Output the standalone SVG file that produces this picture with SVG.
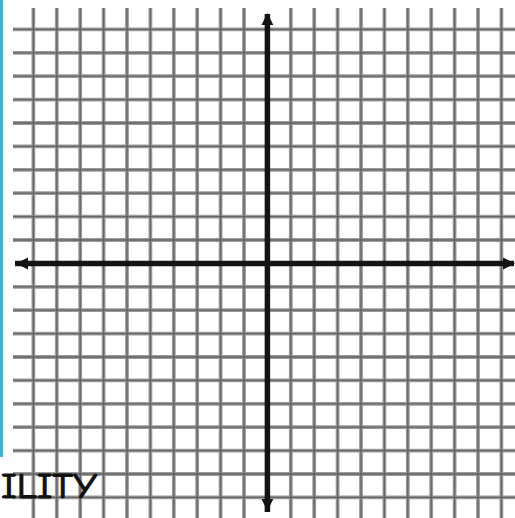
<svg xmlns="http://www.w3.org/2000/svg" width="515" height="518" viewBox="0 0 515 518">
<style>
.g{stroke:#9a9a9a;stroke-width:3.8;fill:none}
.gc{stroke:#4a4a4a;stroke-width:1.3;fill:none;opacity:0.65}
.ax{stroke:#141414;stroke-width:5.5;fill:none}
.ah{fill:#141414}
.t{font-family:"Comic Neue","Comic Sans MS","DejaVu Sans",sans-serif;font-size:36px;fill:#111;stroke:#111;stroke-width:1.2}
</style>
<rect width="515" height="518" fill="#ffffff"/>
<rect x="0" y="0" width="3" height="457" fill="#4aafc9"/>
<g id="grid">
<path class="g" d="M33.4 8V518M56.8 8V518M80.2 8V518M103.6 8V518M127 8V518M150.4 8V518M173.8 8V518M197.2 8V518M220.6 8V518M244 8V518M290.8 8V518M314.2 8V518M337.6 8V518M361 8V518M384.4 8V518M407.8 8V518M431.2 8V518M454.6 8V518M478 8V518M501.4 8V518"/>
<path class="g" d="M13 29.4H515M13 52.8H515M13 76.2H515M13 99.6H515M13 123H515M13 146.4H515M13 169.8H515M13 193.2H515M13 216.6H515M13 240H515M13 286.8H515M13 310.2H515M13 333.6H515M13 357H515M13 380.4H515M13 403.8H515M13 427.2H515M13 450.6H515M13 474H515M13 497.4H515"/>
<path class="gc" d="M33.4 8V518M56.8 8V518M80.2 8V518M103.6 8V518M127 8V518M150.4 8V518M173.8 8V518M197.2 8V518M220.6 8V518M244 8V518M290.8 8V518M314.2 8V518M337.6 8V518M361 8V518M384.4 8V518M407.8 8V518M431.2 8V518M454.6 8V518M478 8V518M501.4 8V518"/>
<path class="gc" d="M13 29.4H515M13 52.8H515M13 76.2H515M13 99.6H515M13 123H515M13 146.4H515M13 169.8H515M13 193.2H515M13 216.6H515M13 240H515M13 286.8H515M13 310.2H515M13 333.6H515M13 357H515M13 380.4H515M13 403.8H515M13 427.2H515M13 450.6H515M13 474H515M13 497.4H515"/>
</g>
<g id="axes">
<path class="ax" d="M267.4 14V512"/>
<path class="ax" d="M15 263.5H514"/>
<polygon class="ah" points="267.4,13 261.5,25 273.3,25"/>
<polygon class="ah" points="267.4,511 261.5,499 273.3,499"/>
<polygon class="ah" points="16,263.5 28,257.5 28,269.5"/>
<polygon class="ah" points="515,263.5 503,257.5 503,269.5"/>
</g>
<text class="t" x="1" y="498" textLength="96" lengthAdjust="spacingAndGlyphs">ILITY</text>
</svg>
